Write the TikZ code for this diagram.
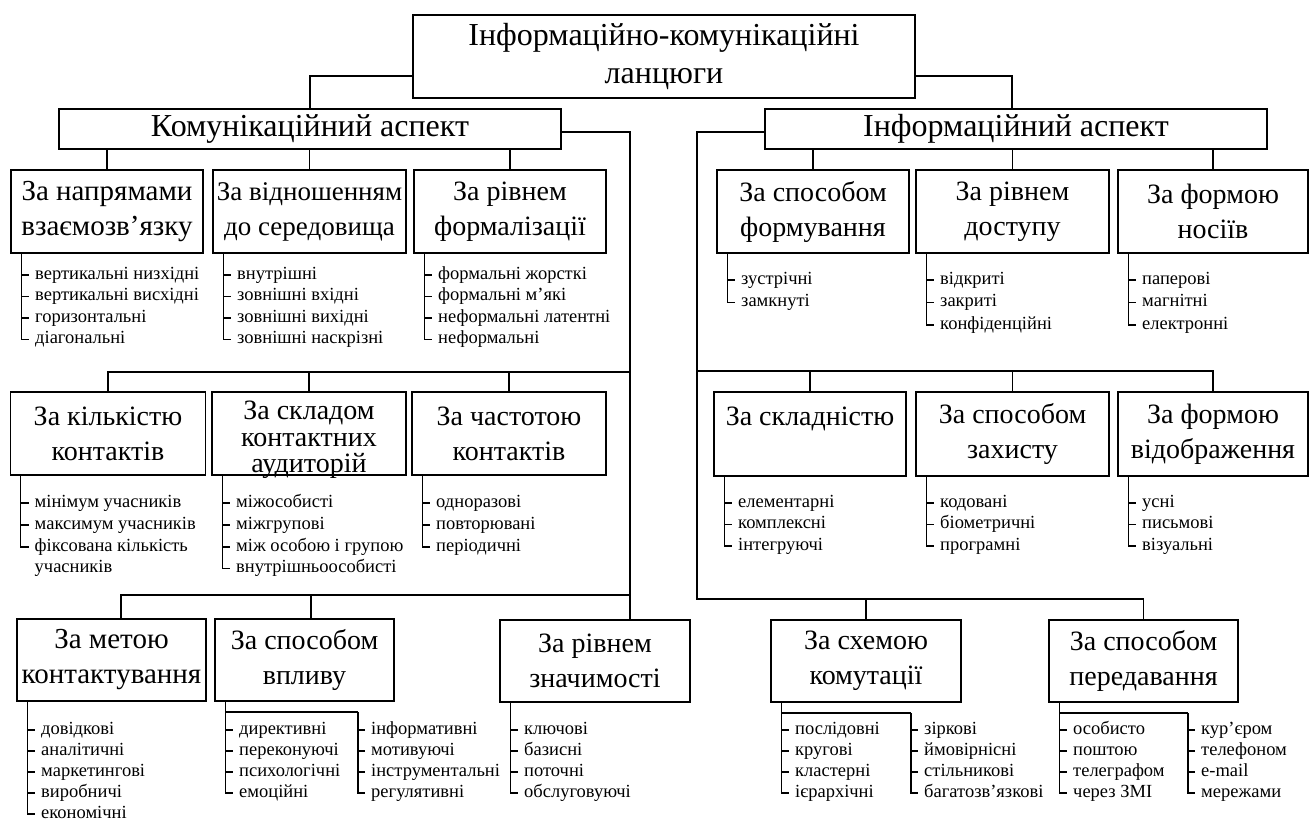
\documentclass[tikz,border=0pt]{standalone}
\usepackage{fontspec}
\setmainfont{Liberation Serif}
\usetikzlibrary{positioning}

\tikzset{
  rootbox/.style={rectangle, draw, line width=1.3pt, minimum width=502pt, minimum height=83pt,
                  inner sep=0pt, align=center, font=\fontsize{32}{38}\selectfont},
  aspectbox/.style={rectangle, draw, line width=1.3pt, minimum width=502pt, minimum height=40pt,
                  inner sep=0pt, font=\fontsize{32}{38}\selectfont},
  catbox/.style={rectangle, draw, line width=1.3pt, minimum height=83pt,
                  inner sep=0pt, align=center, font=\fontsize{28}{35}\selectfont},
  listitem/.style={anchor=west, inner xsep=6pt, inner ysep=0pt, text height=11pt, text depth=3pt,
                  font=\fontsize{18.5}{21.5}\selectfont},
  wire/.style={line width=1.2pt},
}

\begin{document}
\begin{tikzpicture}[x=1pt, y=-1pt]
    \useasboundingbox (0,0) rectangle (1310,822);

    % Root and the two aspects
    \node[rootbox] (root) at (664,56.5) {Інформаційно-комунікаційні\\ланцюги};
    \node[aspectbox] (comm) at (310,129) {Комунікаційний аспект};
    \node[aspectbox] (info) at (1016,129) {Інформаційний аспект};

    % Communication aspect, first row
    \node[catbox, minimum width=192pt, font=\fontsize{29}{35}\selectfont] (a1) at (107,211.5)
        {За напрямами\\взаємозв’язку};
    \node[catbox, minimum width=193pt, font=\fontsize{27}{35}\selectfont] (a2) at (309.5,211.5)
        {За відношенням\\до середовища};
    \node[catbox, minimum width=192pt] (a3) at (510,211.5) {За рівнем\\формалізації};

    % Communication aspect, second row
    \node[catbox, minimum width=195pt] (b1) at (108,433.5) {За кількістю\\контактів};
    \node[catbox, minimum width=194pt, text depth=0pt, font=\fontsize{28}{26.5}\selectfont] (b2)
        at (309,433.5) {\rule{0pt}{25pt}За складом\\контактних\\аудиторій};
    \node[catbox, minimum width=194pt] (b3) at (509,433.5) {За частотою\\контактів};

    % Communication aspect, third row
    \node[catbox, minimum width=189pt, minimum height=82pt, font=\fontsize{29}{35}\selectfont] (m1)
        at (111.5,660) {За метою\\контактування};
    \node[catbox, minimum width=179pt, minimum height=82pt] (m2) at (304.5,660) {За способом\\впливу};
    \node[catbox, minimum width=190pt, minimum height=82pt] (m3) at (595,661) {За рівнем\\значимості};

    % Information aspect, first row
    \node[catbox, minimum width=192pt] (r1) at (813,211.5) {За способом\\формування};
    \node[catbox, minimum width=193pt] (r2) at (1012.5,211.5) {За рівнем\\доступу};
    \node[catbox, minimum width=190pt] (r3) at (1213,211.5) {За формою\\носіїв};

    % Information aspect, second row
    \node[catbox, minimum width=192pt, minimum height=84pt] (t1) at (810,434) {За складністю\\~};
    \node[catbox, minimum width=193pt, minimum height=84pt] (t2) at (1012.5,434) {За способом\\захисту};
    \node[catbox, minimum width=190pt, minimum height=84pt] (t3) at (1213,434) {За формою\\відображення};

    % Information aspect, third row
    \node[catbox, minimum width=190pt, minimum height=82pt] (s1) at (866,661) {За схемою\\комутації};
    \node[catbox, minimum width=189pt, minimum height=82pt] (s2) at (1143.5,661) {За способом\\передавання};

    % Trunk lines
    \coordinate (lrow2) at (630,372);
    \coordinate (lrow3) at (630,595);
    \coordinate (rrow2) at (697,371);
    \coordinate (rrow3) at (697,599);

    \draw[wire] ([yshift=-19.5pt]root.west) -| (comm.north);
    \draw[wire] ([yshift=-19.5pt]root.east) -| ([xshift=-4pt]info.north);
    \draw[wire] ([yshift=-3pt]comm.east) -| ([xshift=35pt]m3.north);
    \draw[wire] ([yshift=-3pt]info.west) -| (rrow3) -| (s2.north);

    \draw[wire] (a1.north) -- (a1.north |- comm.south);
    \draw[wire] (a2.north) -- (a2.north |- comm.south);
    \draw[wire] (a3.north) -- (a3.north |- comm.south);
    \draw[wire] (b1.north) |- (lrow2);
    \draw[wire] (b2.north) -- (b2.north |- lrow2);
    \draw[wire] (b3.north) -- (b3.north |- lrow2);
    \draw[wire] ([xshift=9.5pt]m1.north) |- (lrow3);
    \draw[wire] ([xshift=6.5pt]m2.north) -- ([xshift=6.5pt]m2.north |- lrow3);

    \draw[wire] (r1.north) -- (r1.north |- info.south);
    \draw[wire] (r2.north) -- (r2.north |- info.south);
    \draw[wire] (r3.north) -- (r3.north |- info.south);
    \draw[wire] (rrow2) -| (t3.north);
    \draw[wire] (t1.north) -- (t1.north |- rrow2);
    \draw[wire] (t2.north) -- (t2.north |- rrow2);
    \draw[wire] (s1.north) -- (s1.north |- rrow3);

    % Lists under the first row
    \node[listitem] (a1i1) at (29,275) {вертикальні низхідні};
    \node[listitem] (a1i2) at (29,296.5) {вертикальні висхідні};
    \node[listitem] (a1i3) at (29,318) {горизонтальні};
    \node[listitem] (a1i4) at (29,339.5) {діагональні};
    \node[listitem] (a2i1) at (231,275) {внутрішні};
    \node[listitem] (a2i2) at (231,296.5) {зовнішні вхідні};
    \node[listitem] (a2i3) at (231,318) {зовнішні вихідні};
    \node[listitem] (a2i4) at (231,339.5) {зовнішні наскрізні};
    \node[listitem] (a3i1) at (432,275) {формальні жорсткі};
    \node[listitem] (a3i2) at (432,296.5) {формальні м’які};
    \node[listitem] (a3i3) at (432,318) {неформальні латентні};
    \node[listitem] (a3i4) at (432,339.5) {неформальні};

    \node[listitem] (r1i1) at (735,280) {зустрічні};
    \node[listitem] (r1i2) at (735,302.5) {замкнуті};
    \node[listitem] (r2i1) at (934,280) {відкриті};
    \node[listitem] (r2i2) at (934,302.5) {закриті};
    \node[listitem] (r2i3) at (934,325) {конфіденційні};
    \node[listitem] (r3i1) at (1136,280) {паперові};
    \node[listitem] (r3i2) at (1136,302.5) {магнітні};
    \node[listitem] (r3i3) at (1136,325) {електронні};

    % Lists under the second row
    \node[listitem] (b1i1) at (28.5,503) {мінімум учасників};
    \node[listitem] (b1i2) at (28.5,525) {максимум учасників};
    \node[listitem] (b1i3) at (28.5,547) {фіксована кількість};
    \node[listitem] (b1i3b) at (28.5,568.5) {учасників};
    \node[listitem] (b2i1) at (230,503) {міжособисті};
    \node[listitem] (b2i2) at (230,525) {міжгрупові};
    \node[listitem] (b2i3) at (230,547) {між особою і групою};
    \node[listitem] (b2i4) at (230,568.5) {внутрішньоособисті};
    \node[listitem] (b3i1) at (430,503) {одноразові};
    \node[listitem] (b3i2) at (430,525) {повторювані};
    \node[listitem] (b3i3) at (430,547) {періодичні};

    \node[listitem] (t1i1) at (732,503) {елементарні};
    \node[listitem] (t1i2) at (732,524.5) {комплексні};
    \node[listitem] (t1i3) at (732,546) {інтегруючі};
    \node[listitem] (t2i1) at (934,503) {кодовані};
    \node[listitem] (t2i2) at (934,524.5) {біометричні};
    \node[listitem] (t2i3) at (934,546) {програмні};
    \node[listitem] (t3i1) at (1136,503) {усні};
    \node[listitem] (t3i2) at (1136,524.5) {письмові};
    \node[listitem] (t3i3) at (1136,546) {візуальні};

    % Lists under the third row
    \node[listitem] (m1i1) at (35,730) {довідкові};
    \node[listitem] (m1i2) at (35,751) {аналітичні};
    \node[listitem] (m1i3) at (35,772) {маркетингові};
    \node[listitem] (m1i4) at (35,793) {виробничі};
    \node[listitem] (m1i5) at (35,814) {економічні};
    \node[listitem] (m2i1) at (233,730) {директивні};
    \node[listitem] (m2i2) at (233,751) {переконуючі};
    \node[listitem] (m2i3) at (233,772) {психологічні};
    \node[listitem] (m2i4) at (233,793) {емоційні};
    \node[listitem] (m2j1) at (365,730) {інформативні};
    \node[listitem] (m2j2) at (365,751) {мотивуючі};
    \node[listitem] (m2j3) at (365,772) {інструментальні};
    \node[listitem] (m2j4) at (365,793) {регулятивні};
    \node[listitem] (m3i1) at (518,730) {ключові};
    \node[listitem] (m3i2) at (518,751) {базисні};
    \node[listitem] (m3i3) at (518,772) {поточні};
    \node[listitem] (m3i4) at (518,793) {обслуговуючі};

    \node[listitem] (s1i1) at (789,730) {послідовні};
    \node[listitem] (s1i2) at (789,751) {кругові};
    \node[listitem] (s1i3) at (789,772) {кластерні};
    \node[listitem] (s1i4) at (789,793) {ієрархічні};
    \node[listitem] (s1j1) at (918,730) {зіркові};
    \node[listitem] (s1j2) at (918,751) {ймовірнісні};
    \node[listitem] (s1j3) at (918,772) {стільникові};
    \node[listitem] (s1j4) at (918,793) {багатозв’язкові};
    \node[listitem] (s2i1) at (1067,730) {особисто};
    \node[listitem] (s2i2) at (1067,751) {поштою};
    \node[listitem] (s2i3) at (1067,772) {телеграфом};
    \node[listitem] (s2i4) at (1067,793) {через ЗМІ};
    \node[listitem] (s2j1) at (1195,730) {кур’єром};
    \node[listitem] (s2j2) at (1195,751) {телефоном};
    \node[listitem] (s2j3) at (1195,772) {e-mail};
    \node[listitem] (s2j4) at (1195,793) {мережами};

    % Brackets
    \coordinate (a1b) at ([xshift=11pt]a1.south west);
    \coordinate (a2b) at ([xshift=11pt]a2.south west);
    \coordinate (a3b) at ([xshift=11pt]a3.south west);
    \coordinate (r1b) at ([xshift=11pt]r1.south west);
    \coordinate (r2b) at ([xshift=11pt]r2.south west);
    \coordinate (r3b) at ([xshift=11pt]r3.south west);
    \coordinate (b1b) at ([xshift=11pt]b1.south west);
    \coordinate (b2b) at ([xshift=11pt]b2.south west);
    \coordinate (b3b) at ([xshift=11pt]b3.south west);
    \coordinate (t1b) at ([xshift=11pt]t1.south west);
    \coordinate (t2b) at ([xshift=11pt]t2.south west);
    \coordinate (t3b) at ([xshift=11pt]t3.south west);
    \coordinate (m1b) at ([xshift=11pt]m1.south west);
    \coordinate (m2b) at ([xshift=11pt]m2.south west);
    \coordinate (m3b) at ([xshift=11pt]m3.south west);
    \coordinate (s1b) at ([xshift=11pt]s1.south west);
    \coordinate (s2b) at ([xshift=11pt]s2.south west);
    \coordinate (m2f) at (358,712);
    \coordinate (s1f) at (911,713);
    \coordinate (s2f) at (1188,713);

    \draw[wire] (a1b) |- (a1i1.west) (a1b) |- (a1i2.west) (a1b) |- (a1i3.west) (a1b) |- (a1i4.west);
    \draw[wire] (a2b) |- (a2i1.west) (a2b) |- (a2i2.west) (a2b) |- (a2i3.west) (a2b) |- (a2i4.west);
    \draw[wire] (a3b) |- (a3i1.west) (a3b) |- (a3i2.west) (a3b) |- (a3i3.west) (a3b) |- (a3i4.west);
    \draw[wire] (r1b) |- (r1i1.west) (r1b) |- (r1i2.west);
    \draw[wire] (r2b) |- (r2i1.west) (r2b) |- (r2i2.west) (r2b) |- (r2i3.west);
    \draw[wire] (r3b) |- (r3i1.west) (r3b) |- (r3i2.west) (r3b) |- (r3i3.west);
    \draw[wire] (b1b) |- (b1i1.west) (b1b) |- (b1i2.west) (b1b) |- (b1i3.west);
    \draw[wire] (b2b) |- (b2i1.west) (b2b) |- (b2i2.west) (b2b) |- (b2i3.west) (b2b) |- (b2i4.west);
    \draw[wire] (b3b) |- (b3i1.west) (b3b) |- (b3i2.west) (b3b) |- (b3i3.west);
    \draw[wire] (t1b) |- (t1i1.west) (t1b) |- (t1i2.west) (t1b) |- (t1i3.west);
    \draw[wire] (t2b) |- (t2i1.west) (t2b) |- (t2i2.west) (t2b) |- (t2i3.west);
    \draw[wire] (t3b) |- (t3i1.west) (t3b) |- (t3i2.west) (t3b) |- (t3i3.west);
    \draw[wire] (m1b) |- (m1i1.west) (m1b) |- (m1i2.west) (m1b) |- (m1i3.west) (m1b) |- (m1i4.west)
        (m1b) |- (m1i5.west);
    \draw[wire] (m2b) |- (m2f) (m2b) |- (m2i1.west) (m2b) |- (m2i2.west) (m2b) |- (m2i3.west)
        (m2b) |- (m2i4.west);
    \draw[wire] (m2f) |- (m2j1.west) (m2f) |- (m2j2.west) (m2f) |- (m2j3.west) (m2f) |- (m2j4.west);
    \draw[wire] (m3b) |- (m3i1.west) (m3b) |- (m3i2.west) (m3b) |- (m3i3.west) (m3b) |- (m3i4.west);
    \draw[wire] (s1b) |- (s1f) (s1b) |- (s1i1.west) (s1b) |- (s1i2.west) (s1b) |- (s1i3.west)
        (s1b) |- (s1i4.west);
    \draw[wire] (s1f) |- (s1j1.west) (s1f) |- (s1j2.west) (s1f) |- (s1j3.west) (s1f) |- (s1j4.west);
    \draw[wire] (s2b) |- (s2f) (s2b) |- (s2i1.west) (s2b) |- (s2i2.west) (s2b) |- (s2i3.west)
        (s2b) |- (s2i4.west);
    \draw[wire] (s2f) |- (s2j1.west) (s2f) |- (s2j2.west) (s2f) |- (s2j3.west) (s2f) |- (s2j4.west);
\end{tikzpicture}
\end{document}
